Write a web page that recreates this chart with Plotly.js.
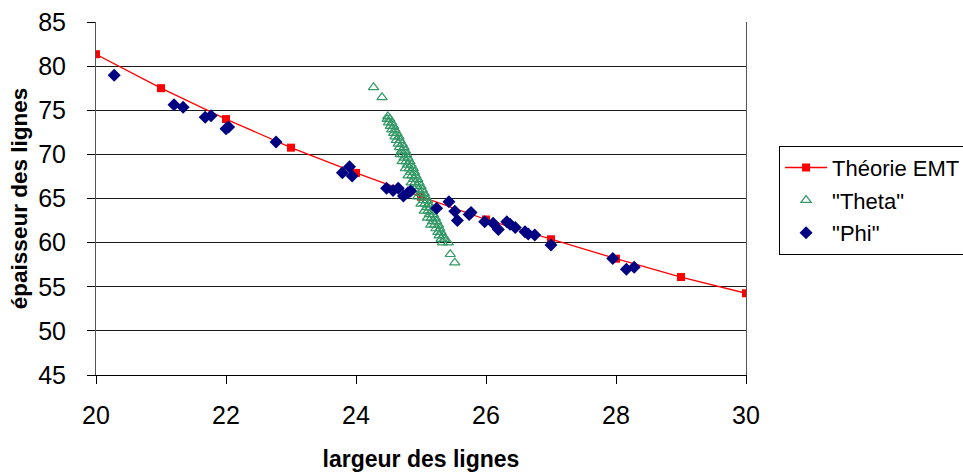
<!DOCTYPE html>
<html>
<head>
<meta charset="utf-8">
<script src="https://cdn.plot.ly/plotly-3.0.1.min.js"></script>
<style>html,body{margin:0;padding:0;background:#fff;}#chart{width:963px;height:473px;}</style>
</head>
<body>
<div id="chart"></div>
<script>
// Théorie EMT
var emtX = [20, 21, 22, 23, 24, 25, 26, 27, 28, 29, 30];
var emtY = [81.35, 77.5, 74.0, 70.76, 67.9, 65.2, 62.62, 60.38, 58.18, 56.1, 54.26];

// "Theta"
var thetaX = [24.27, 24.40, 24.49, 24.48, 24.52, 24.50, 24.55, 24.53, 24.58, 24.55, 24.60,
  24.58, 24.63, 24.60, 24.66, 24.62, 24.68, 24.65, 24.71, 24.67, 24.74, 24.70, 24.76,
  24.72, 24.78, 24.68, 24.74, 24.80, 24.77, 24.83, 24.71, 24.79, 24.85, 24.82, 24.88, 24.76,
  24.84, 24.90, 24.86, 24.92, 24.80, 24.89, 24.95, 24.91, 24.97, 24.85, 24.94, 25.00,
  24.96, 25.02, 24.90, 24.99, 25.05, 25.01, 25.07, 24.95, 25.04, 25.10, 25.06, 25.12, 25.00,
  25.09, 25.14, 25.11, 25.17, 25.05, 25.13, 25.19, 25.16, 25.22, 25.10, 25.18, 25.24,
  25.21, 25.27, 25.15, 25.23, 25.29, 25.26, 25.31, 25.28, 25.34, 25.31, 25.36, 25.33, 25.42,
  25.45, 25.52];
var thetaY = [77.6, 76.47, 74.3, 74.0, 74.0, 73.6, 73.6, 73.2, 73.2, 72.8, 72.8,
  72.4, 72.4, 72.0, 72.0, 71.6, 71.6, 71.2, 71.2, 70.8, 70.8, 70.4, 70.4,
  70.0, 70.0, 70.0, 69.6, 69.6, 69.2, 69.2, 69.2, 68.8, 68.8, 68.4, 68.4, 68.4,
  68.0, 68.0, 67.6, 67.6, 67.6, 67.2, 67.2, 66.8, 66.8, 66.8, 66.4, 66.4,
  66.0, 66.0, 66.0, 65.6, 65.6, 65.2, 65.2, 65.2, 64.8, 64.8, 64.4, 64.4, 64.4,
  64.0, 64.0, 63.6, 63.6, 63.6, 63.2, 63.2, 62.8, 62.8, 62.8, 62.4, 62.4,
  62.0, 62.0, 62.0, 61.6, 61.6, 61.2, 61.2, 60.8, 60.8, 60.4, 60.4, 60.0, 60.0,
  58.68, 57.73];

// "Phi"
var phiX = [20.28, 21.20, 21.34, 21.68, 21.77, 22.00, 22.04, 22.77, 23.79, 23.90, 23.94,
  24.47, 24.57, 24.65, 24.73, 24.80, 24.84, 25.24, 25.43, 25.52, 25.56, 25.74, 25.77,
  25.98, 26.11, 26.19, 26.32, 26.37, 26.45, 26.60, 26.65, 26.75, 27.00, 27.95, 28.16, 28.28];
var phiY = [78.96, 75.63, 75.33, 74.20, 74.38, 72.90, 73.10, 71.40, 67.92, 68.60, 67.55,
  66.15, 65.90, 66.15, 65.28, 65.66, 65.85, 63.89, 64.64, 63.55, 62.52, 63.20, 63.40,
  62.37, 62.19, 61.50, 62.37, 62.07, 61.70, 61.24, 60.98, 60.86, 59.73, 58.20, 56.97, 57.20];

var xTicks = [20, 22, 24, 26, 28, 30];
var yTicks = [45, 50, 55, 60, 65, 70, 75, 80, 85];

var FONT = 'Liberation Sans, Arial, sans-serif';

var data = [
  {x: emtX, y: emtY, name: 'Théorie EMT', type: 'scatter', mode: 'lines+markers',
   legendgroup: 'a',
   line: {color: '#FF0000', width: 1.3},
   marker: {symbol: 'square', color: '#FF0000', size: 8}},
  {x: thetaX, y: thetaY, name: '"Theta"', type: 'scatter', mode: 'markers',
   legendgroup: 'b',
   marker: {symbol: 'triangle-up-open', color: '#339966', size: 9, line: {width: 1.2}}},
  {x: phiX, y: phiY, name: '"Phi"', type: 'scatter', mode: 'markers',
   legendgroup: 'c',
   marker: {symbol: 'diamond', color: '#000080', size: 10}}
];

var layout = {
  width: 963, height: 473,
  margin: {l: 96, r: 217, t: 22, b: 98, pad: 0},
  paper_bgcolor: '#FFFFFF', plot_bgcolor: '#FFFFFF',
  font: {family: FONT, color: '#000000'},
  xaxis: {
    range: [20, 30], tickvals: xTicks, ticktext: xTicks.map(String),
    showgrid: false, zeroline: false,
    showline: true, linecolor: '#000000', linewidth: 1,
    ticks: 'outside', ticklen: 8, tickcolor: '#000000',
    ticklabelstandoff: 10,
    tickfont: {size: 25, family: FONT},
    title: {text: 'largeur des lignes', standoff: 22,
      font: {size: 23, family: FONT, weight: 'bold'}}
  },
  yaxis: {
    range: [45, 85], tickvals: yTicks, ticktext: yTicks.map(String),
    showgrid: true, gridcolor: '#1a1a1a', gridwidth: 1, zeroline: false,
    showline: true, linecolor: '#555555', linewidth: 1, mirror: true,
    ticks: 'outside', ticklen: 8, tickcolor: '#000000',
    ticklabelstandoff: 16,
    tickfont: {size: 25, family: FONT},
    title: {text: 'épaisseur des lignes', standoff: 4,
      font: {size: 22.5, family: FONT, weight: 'bold'}}
  },
  showlegend: true,
  legend: {
    xref: 'container', yref: 'container',
    x: 0.809, y: 0.692, xanchor: 'left', yanchor: 'top',
    bgcolor: '#FFFFFF', bordercolor: '#000000', borderwidth: 1,
    font: {size: 22, family: FONT},
    tracegroupgap: 1, itemsizing: 'trace', itemwidth: 42
  }
};

Plotly.newPlot('chart', data, layout, {displayModeBar: false, staticPlot: true});
</script>
</body>
</html>
